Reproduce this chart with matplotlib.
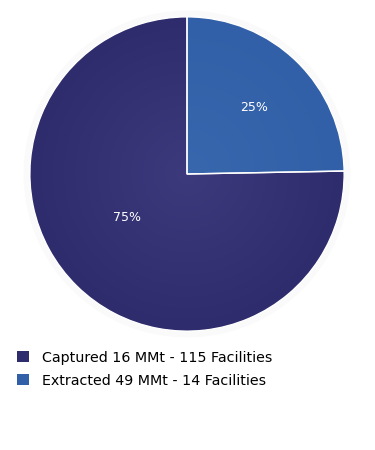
import numpy as np
import matplotlib
matplotlib.use("Agg")
import matplotlib.pyplot as plt
from matplotlib.patches import Patch, Circle
from matplotlib.colors import to_rgb

labels = ["Captured 16 MMt - 115 Facilities", "Extracted 49 MMt - 14 Facilities"]
shares = [75.3, 24.7]
pct_labels = ["75%", "25%"]
colors = ["#2e2c6c", "#3260a8"]
inner_colors = ["#3c3a7c", "#3967ae"]
# where the percent labels sit (radius fraction, angle in degrees)
label_r = [0.47, 0.6]
label_ang = [216, 44.6]

fig = plt.figure(figsize=(3.75, 4.5), dpi=100)
ax = fig.add_axes([22 / 375, 111 / 450, 330 / 375, 330 / 450])

# faint halo around the pie
ax.add_patch(Circle((0, 0), 1.035, color="#fafafb", zorder=0))

wedges, texts, autotexts = ax.pie(
    shares,
    colors=colors,
    startangle=90,
    counterclock=True,
    autopct=lambda p: "",
    pctdistance=0.55,
    wedgeprops=dict(edgecolor="white", linewidth=1.0),
    radius=1.0,
)

# soft radial shading inside each slice
n = 300
xs = np.linspace(-1, 1, n)
X, Y = np.meshgrid(xs, xs)
R = np.clip(np.sqrt(X**2 + Y**2), 0, 1)[..., None]
for w, c_in, c_out in zip(wedges, inner_colors, colors):
    img = (1 - R) * np.array(to_rgb(c_in)) + R * np.array(to_rgb(c_out))
    im = ax.imshow(img, extent=[-1, 1, -1, 1], origin="lower", zorder=1.5,
                   interpolation="bilinear")
    im.set_clip_path(w)

# white slice borders on top
for w in wedges:
    w.set_zorder(2)
    w.set_facecolor("none")

for t, lab, r, a in zip(autotexts, pct_labels, label_r, label_ang):
    t.set_text(lab)
    t.set_position((r * np.cos(np.radians(a)), r * np.sin(np.radians(a))))
    t.set_color("white")
    t.set_fontsize(9)
    t.set_zorder(3)

ax.set_xlim(-1.05, 1.05)
ax.set_ylim(-1.05, 1.05)
ax.set_aspect("equal")
ax.axis("off")

handles = [Patch(facecolor=c, edgecolor="none") for c in colors]
fig.legend(
    handles,
    labels,
    loc="upper left",
    bbox_to_anchor=(0.012, 0.249),
    frameon=False,
    fontsize=10.3,
    handlelength=0.8,
    handleheight=0.8,
    handletextpad=0.95,
    labelspacing=0.62,
)

fig.savefig("out.png", dpi=100)
